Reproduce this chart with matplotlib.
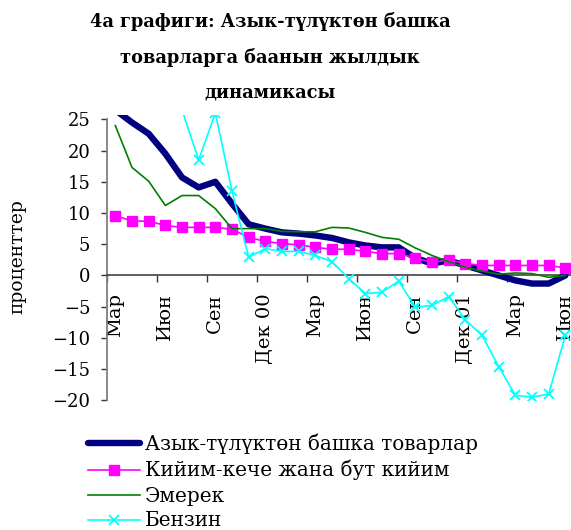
import matplotlib
matplotlib.use("Agg")
import matplotlib.pyplot as plt
import numpy as np

# ---- data (Mar 2000 .. Jun 2002, monthly) ----
tick_labels = ["Мар", "Июн", "Сен", "Дек 00", "Мар", "Июн", "Сен", "Дек 01", "Мар", "Июн"]

nonfood = [26.5, 24.5, 22.7, 19.5, 15.7, 14.1, 15.0, 11.5, 8.2, 7.5, 6.9, 6.7, 6.4, 6.0,
           5.3, 4.8, 4.5, 4.5, 2.8, 1.9, 2.4, 1.6, 0.8, 0.0, -0.8, -1.3, -1.3, 0.0]
clothing = [9.6, 8.7, 8.7, 8.0, 7.7, 7.7, 7.7, 7.4, 6.1, 5.45, 5.1, 4.9, 4.5, 4.2,
            4.2, 3.85, 3.5, 3.5, 2.8, 2.1, 2.5, 1.9, 1.6, 1.6, 1.6, 1.6, 1.6, 1.2]
furniture = [24.0, 17.3, 15.1, 11.2, 12.8, 12.8, 10.7, 7.5, 7.5, 7.5, 7.05, 7.0, 7.0, 7.7,
             7.6, 6.9, 6.1, 5.8, 4.4, 3.2, 2.2, 1.3, 0.7, 0.2, 0.4, 0.3, -0.3, 0.0]
petrol = [42.0, 40.0, 37.0, 33.0, 26.5, 18.5, 26.0, 13.5, 2.9, 4.3, 3.85, 3.85, 3.2, 2.2,
          -0.5, -2.9, -2.7, -0.9, -5.1, -4.8, -3.4, -7.1, -9.6, -14.6, -19.2, -19.5, -19.0, -9.6]

series_names = ["Азык-түлүктөн башка товарлар", "Кийим-кече жана бут кийим", "Эмерек", "Бензин"]
title_lines = ["4а графиги: Азык-түлүктөн башка", "товарларга баанын жылдык", "динамикасы"]
ylabel = "проценттер"

plt.rcParams['font.family'] = ['DejaVu Serif']

W, H = 571, 530
fig = plt.figure(figsize=(W / 100, H / 100), dpi=100)

x0, x1 = 107, 573.7
ytop, ybot = 115, 400.3
ax = fig.add_axes([x0 / W, (H - ybot) / H, (x1 - x0) / W, (ybot - ytop) / H])

x = np.arange(len(nonfood))
ax.plot(x, nonfood, color="#000080", lw=4.6, solid_joinstyle="round", solid_capstyle="round",
        label=series_names[0], zorder=3)
ax.plot(x, clothing, color="#FF00FF", lw=1.2, marker="s", markersize=6.5,
        label=series_names[1], zorder=4)
ax.plot(x, furniture, color="#008000", lw=1.2, label=series_names[2], zorder=5)
ax.plot(x, petrol, color="#00FFFF", lw=1.2, marker="x", markersize=7, markeredgewidth=1.3,
        label=series_names[3], zorder=6)

ax.set_xlim(-0.5, len(nonfood) - 0.5)
ax.set_ylim(-20, 25.7)

# spines
ax.spines["top"].set_visible(False)
ax.spines["right"].set_visible(False)
ax.spines["left"].set_bounds(-20, 25)
ax.spines["left"].set_color("#808080")
ax.spines["left"].set_linewidth(1.3)
ax.spines["bottom"].set_position(("data", 0))
ax.spines["bottom"].set_color("#333333")
ax.spines["bottom"].set_linewidth(1.1)

ax.set_yticks(np.arange(-20, 26, 5))
ax.tick_params(axis="y", direction="out", length=4.5, width=1, color="#333333",
               pad=7.5, labelsize=13)

major = np.arange(-0.5, len(nonfood) - 0.5, 3)
ax.set_xticks(major)
ax.set_xticklabels([])
ax.set_xticks(np.arange(0, len(nonfood), 3), minor=True)
ax.set_xticklabels(tick_labels, minor=True, rotation=90, va="top", ha="center", fontsize=14)
ax.tick_params(axis="x", which="major", direction="out", length=5, width=1, color="#333333")
ax.tick_params(axis="x", which="minor", length=0, pad=13)

fig.text(17 / W, 1 - 257 / H, ylabel, rotation=90, ha="center", va="center", fontsize=13.5)

for i, (line, yb) in enumerate(zip(title_lines, [27, 63, 97])):
    fig.text(270 / W, 1 - yb / H, line, ha="center", va="baseline", fontsize=12.8,
             fontweight="bold")

fig.legend(loc="upper left", bbox_to_anchor=(88 / W, 1 - 433.5 / H), frameon=False,
           fontsize=14.4, handlelength=2.6, handletextpad=0.25, labelspacing=0.3,
           borderaxespad=0, borderpad=0)

fig.savefig("out.png", dpi=100)
